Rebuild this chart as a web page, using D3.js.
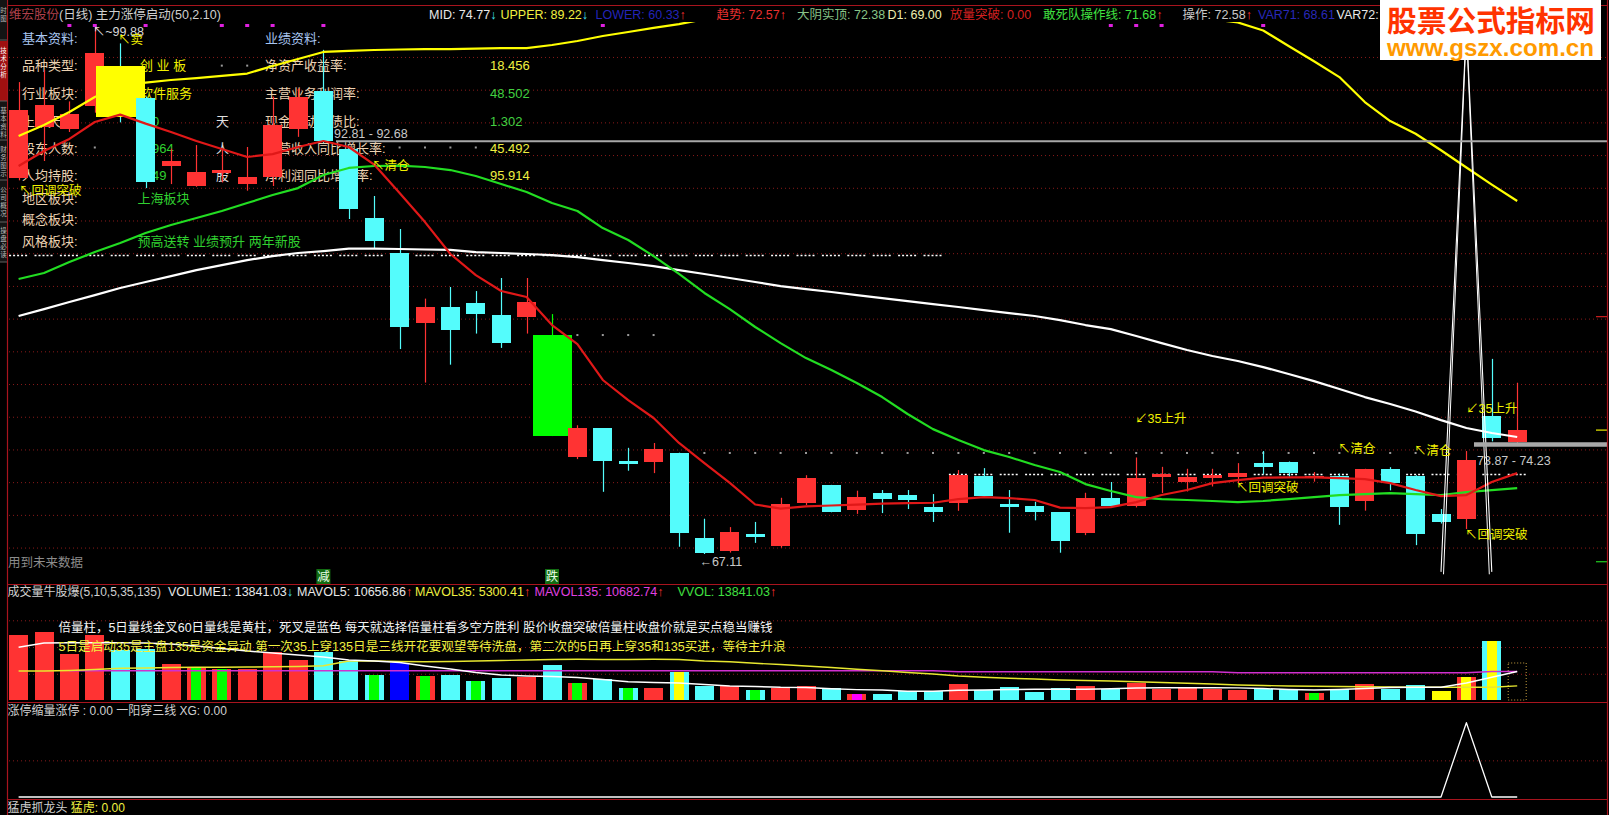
<!DOCTYPE html>
<html><head><meta charset="utf-8">
<script src="https://cdn.jsdelivr.net/npm/d3@7/dist/d3.min.js"></script>
<style>
html,body{margin:0;padding:0;background:#000;overflow:hidden}
svg{display:block}
text{font-family:"Liberation Sans","Noto Sans CJK SC",sans-serif;}
</style></head>
<body><svg id="chart" width="1609" height="815"></svg>
<script>
// ================= DATA =================
const opens  = [90.45,93.61,93.49,94.91,97.4,95.41,91.19,89.95,90.75,90.1,90.5,93.5,95.86,92.27,87.99,85.79,81.47,82.41,82.68,81.94,81.79,80.7,73.13,74.93,72.88,72.83,73.37,68.1,67.3,68.35,67.6,70.29,71.39,69.84,70.89,70.77,70.03,70.29,71.97,70.21,70.08,69.69,68.39,70.6,70.12,71.9,71.6,71.84,71.86,72.75,72.8,71.82,71.97,70.4,72.4,71.97,69.59,69.3,75.67,74.06];
const highs  = [96.4,97.15,95.2,99.88,98.8,95.5,92.27,92.49,92.27,92.37,95.5,96.0,98.4,92.4,89.33,87.28,82.96,83.68,83.43,84.24,84.24,82.0,75.1,74.93,73.7,74.0,73.4,69.3,68.78,69.1,70.6,72.0,71.4,71.04,71.08,71.08,70.83,72.32,72.44,71.08,70.35,69.7,70.91,71.58,73.1,72.52,72.4,72.4,72.75,73.5,72.85,72.2,72.1,72.4,72.5,72.0,69.9,73.5,79.22,77.74];
const lows   = [90.3,91.5,93.3,94.5,93.9,89.82,90.07,89.9,90.17,89.66,89.95,93.0,92.6,87.9,86.06,79.83,77.75,78.86,80.79,79.9,80.79,74.43,73.0,70.97,72.28,72.13,67.56,67.11,67.2,67.8,67.5,70.15,69.7,69.6,69.65,69.9,69.1,69.79,70.66,68.43,69.2,67.19,68.28,70.0,70.0,70.9,70.99,71.3,71.5,72.08,71.9,71.6,68.92,69.8,71.06,67.66,69.0,68.66,74.1,73.9];
const closes = [94.67,94.98,94.42,98.2,94.23,90.2,91.5,90.82,90.94,90.5,93.73,95.5,92.72,88.55,86.55,81.19,82.41,81.03,82.03,80.23,82.75,74.43,74.93,72.88,72.7,73.62,68.4,67.15,68.47,68.16,70.21,71.82,69.73,70.66,70.52,70.45,69.73,72.0,70.72,70.04,69.73,67.93,70.56,70.12,71.8,72.1,71.9,72.0,72.15,72.52,72.15,71.92,70.0,72.36,71.5,68.38,69.09,72.95,74.32,74.8];

// Bollinger-style lines of 主力涨停启动(50,2.10)
const upperVals = [93.05,93.73,94.54,95.47,96.16,96.37,96.53,96.65,96.78,96.93,97.4,97.83,98.27,98.33,98.39,98.42,98.45,98.45,98.48,98.51,98.51,98.7,98.95,99.26,99.51,99.76,100.0,100.3,100.6,100.9,101.1,101.3,101.4,101.5,101.5,101.5,101.4,101.3,101.2,101.1,101.0,100.9,100.8,100.7,100.6,100.5,100.4,100.3,100.1,99.6,98.64,97.69,96.71,95.16,93.98,93.19,92.17,91.1,90.04,89.02];
const midVals   = [81.88,82.31,82.75,83.18,83.62,83.99,84.36,84.73,85.04,85.35,85.6,85.79,85.91,86.06,86.06,86.04,86.01,85.98,85.85,85.79,85.73,85.66,85.54,85.35,85.17,84.98,84.73,84.49,84.24,83.99,83.74,83.55,83.37,83.18,82.99,82.81,82.62,82.44,82.25,82.06,81.88,81.63,81.32,81.07,80.64,80.2,79.77,79.4,79.09,78.71,78.28,77.84,77.35,76.85,76.42,75.95,75.42,74.93,74.62,74.37];
const trendVals = [91.19,92.12,92.87,93.92,94.38,93.82,93.3,92.74,92.25,91.75,91.93,92.37,92.74,92.37,91.28,89.51,87.71,85.73,84.42,83.43,83.06,81.32,80.14,77.91,76.66,75.55,74.0,72.75,71.52,70.18,69.93,70.06,70.12,70.18,70.24,70.27,70.29,70.52,70.64,70.58,70.46,69.99,69.96,70.02,70.33,70.77,71.08,71.51,71.7,71.85,71.86,71.86,71.82,71.76,71.51,71.08,70.7,70.77,71.58,72.13];
const opLineVals = [84.18,84.55,85.23,85.85,86.41,87.03,87.53,87.96,88.4,88.89,89.39,89.82,90.63,91.07,91.19,91.21,91.13,90.94,90.57,90.07,89.58,88.89,88.4,87.34,86.6,85.6,84.49,83.31,82.31,81.2,80.2,79.27,78.53,77.72,76.85,75.8,74.86,74.18,73.56,73.13,72.63,72.2,71.45,71.02,70.64,70.52,70.46,70.4,70.33,70.4,70.52,70.64,70.77,70.83,70.89,70.83,70.77,70.95,71.08,71.2];
const spikeVals = [null,null,null,null,null,null,null,null,null,null,null,null,null,null,null,null,null,null,null,null,null,null,null,null,null,null,null,null,null,null,null,null,null,null,null,null,null,null,null,null,null,null,null,null,null,null,null,null,null,null,null,null,null,null,null,null,66.0,99.9,66.0,null];
const dashLevel = [85.66,85.66,85.66,85.66,85.66,85.66,85.66,85.66,85.66,85.66,85.66,85.66,85.66,85.66,85.66,85.66,85.66,85.66,85.66,85.66,85.66,85.66,85.66,85.66,85.66,85.66,85.66,85.66,85.66,85.66,85.66,85.66,85.66,85.66,85.66,85.66,85.66,72.07,72.07,72.07,72.07,72.07,72.07,72.07,72.07,72.07,72.07,72.07,72.07,72.07,72.07,72.07,72.07,72.07,72.07,72.07,72.07,72.07,72.07,72.07];
const grayDotIdx = [3,8,9,15,16,17,18,22,23,24,25,27,28,29,30,31,32,33,34,35,36,37,38,39,40,41,42,43,44,45,46,47,48,49,50,51,52,53,54,55];
const grayDotVal = [92.34,97.42,97.42,92.34,92.34,92.34,92.34,80.7,80.7,80.7,80.7,73.38,73.38,73.38,73.38,73.38,73.38,73.38,73.38,73.38,73.38,73.38,73.38,73.38,73.38,73.38,73.38,73.38,73.38,73.38,73.38,73.38,73.38,73.38,73.38,73.38,73.38,73.38,73.38,73.38];
const topMarkIdx = [2,3,5,8,9,10,12,23,43,44,45,49];
const gridPrices = [97.99,95.96,93.93,91.90,89.87,87.84,85.81,83.78,81.75,79.72,77.69,75.66,73.63,71.60,69.57,67.54];

// volume panel
const volumes = [24310,25430,17200,24420,18700,18960,13460,12230,11590,11590,17840,14960,17840,14700,9350,13730,8980,9350,7220,8340,8490,13090,6470,7850,4490,4490,10470,5240,5350,3740,4600,5240,4380,2240,2240,3370,3370,5980,3740,4750,2990,4380,5240,4000,6360,4110,4600,4110,3740,4000,4000,2510,4000,5980,4000,5610,3370,8600,22070,13841.03];
const volKind = ['r','r','r','r','c','c','r','rg','rg','r','r','r','c','c','cg','b','rg','c','cg','c','r','c','rg','c','cg','r','cy','c','r','cg','r','r','c','rm','c','c','c','r','c','c','c','c','r','c','r','r','r','r','r','c','c','rg','c','r','c','c','y','ry','cy','o'];
const mavol5   = [19710,21320,21430,21430,21430,21320,20940,20200,19260,18330,17580,16830,16080,14960,14590,14030,12720,11590,10290,9350,8980,8790,8420,7670,6840,6550,6360,5800,5240,5050,4750,4680,4230,3890,3740,3250,3250,3630,3740,3930,4000,4000,4000,4230,4490,4600,4600,4600,4530,4300,3930,3740,3930,4300,4680,4750,4750,6360,8490,10656.86];
const mavol35  = [10850,10850,11030,11410,11860,11970,12160,12230,12230,12340,12420,12530,12830,14590,14590,14400,14320,14400,14590,14770,14960,15150,15220,15150,15150,15220,15150,14590,14320,13730,13280,12720,12160,11480,10960,10290,9720,8980,8490,8120,7850,7480,7290,7110,6840,6550,6250,5980,5610,5420,5240,5160,5050,4970,4860,4790,4750,4750,4750,5300.41];
const mavol135 = [null,null,10920,10920,10920,10920,10920,10920,10920,10920,10920,10920,10920,10920,10920,10920,10920,10920,10920,10920,10920,10920,10920,10920,10920,10920,10920,10920,10920,10920,10920,10920,10920,10920,10920,10920,10920,10580,10580,10580,10580,10580,10580,10580,10580,10580,10580,10580,10210,10210,10210,10210,10210,10210,10210,10210,10210,10210,10682.74,10682.74];
const volGrid = [10000,20000,30000];

// lower panel
const xgVals = [0,0,0,0,0,0,0,0,0,0,0,0,0,0,0,0,0,0,0,0,0,0,0,0,0,0,0,0,0,0,0,0,0,0,0,0,0,0,0,0,0,0,0,0,0,0,0,0,0,0,0,0,0,0,0,0,0,1,0,0];
const subGrid = [0.5];

// texts
const headerItems = [
  {x:429, c:'#e8e8e8', t:'MID: 74.77', a:'↓', ac:'#40e0f0'},
  {x:500.5, c:'#f0f040', t:'UPPER: 89.22', a:'↓', ac:'#40e0f0'},
  {x:595.5, c:'#2424b8', t:'LOWER: 60.33', a:'↑', ac:'#ff3030'},
  {x:716.5, c:'#e83030', t:'趋势: 72.57', a:'↑', ac:'#ff3030'},
  {x:797, c:'#88c488', t:'大阴实顶: 72.38'},
  {x:887.5, c:'#eeeeb0', t:'D1: 69.00'},
  {x:950, c:'#d42020', t:'放量突破: 0.00'},
  {x:1043, c:'#40e040', t:'敢死队操作线: 71.68', a:'↑', ac:'#ff3030'},
  {x:1182.5, c:'#c8c8c8', t:'操作: 72.58', a:'↑', ac:'#ff3030'},
  {x:1258, c:'#2828b8', t:'VAR71: 68.61'},
  {x:1336.5, c:'#e8e8e8', t:'VAR72: 74.23'}
];
const volHeader = [
  {x:7.5, c:'#d0d0d0', t:'成交量牛股爆(5,10,5,35,135)'},
  {x:168, c:'#e8e8e8', t:'VOLUME1: 13841.03', a:'↓', ac:'#40e0f0'},
  {x:297, c:'#e8e8e8', t:'MAVOL5: 10656.86', a:'↑', ac:'#ff3030'},
  {x:415, c:'#f0f040', t:'MAVOL35: 5300.41', a:'↑', ac:'#ff3030'},
  {x:534.5, c:'#e040e0', t:'MAVOL135: 10682.74', a:'↑', ac:'#ff3030'},
  {x:677.5, c:'#40e040', t:'VVOL: 13841.03', a:'↑', ac:'#ff3030'}
];
const leftLabels  = ['基本资料:','品种类型:','行业板块:','上市天数:','股东人数:','人均持股:','地区板块:','概念板块:','风格板块:'];
const leftValues  = ['',' 创 业 板','软件服务','550','17964','2949','上海板块','','预高送转 业绩预升 两年新股'];
const leftUnits   = ['','','','天','人','股','','',''];
const rightLabels = ['业绩资料:','净资产收益率:','主营业务利润率:','现金流动负债比:','主营收入同比增长率:','净利润同比增长率:'];
const rightValues = ['','18.456','48.502','1.302','45.492','95.914'];
const volNote1 = '倍量柱，5日量线金叉60日量线是黄柱，死叉是蓝色 每天就选择倍量柱看多空方胜利 股价收盘突破倍量柱收盘价就是买点稳当赚钱';
const volNote2 = '5日是启动35是主盘135是资金异动 第一次35上穿135日是三线开花要观望等待洗盘，第二次的5日再上穿35和135买进，等待主升浪';
const sideTabs = ['时图','技术分析','基本资料','财务图示','公司概况','操盘必读'];

// ================= DRAW =================
const W = 1609, H = 815;
const RED = '#ff3333', CYAN = '#54fcfc', YEL = '#ffff00', GRN = '#00ff00';
const svg = d3.select('#chart');
svg.append('rect').attr('width', W).attr('height', H).attr('fill', '#000');
const defs = svg.append('defs');
defs.append('clipPath').attr('id', 'clipMain').append('rect').attr('x', 8).attr('y', 22).attr('width', 1599).attr('height', 562);
defs.append('clipPath').attr('id', 'clipVol').append('rect').attr('x', 8).attr('y', 600).attr('width', 1599).attr('height', 101);

const idx = d3.range(opens.length);
const x  = d3.scaleLinear().domain([0, 59]).range([18.6, 1517.2]);
const y  = d3.scaleLinear().domain([67.11, 99.88]).range([554, 26]);
const vy = d3.scaleLinear().domain([0, 30000]).range([700, 619.8]);
const sy = d3.scaleLinear().domain([0, 1]).range([797, 722.7]);
const BW = 19;

// grid via axes
function gridAxis(scale, vals) {
  const g = svg.append('g').attr('transform', 'translate(9,0)')
    .call(d3.axisRight(scale).tickValues(vals).tickSize(1597).tickFormat(''));
  g.select('.domain').remove();
  g.selectAll('line').attr('stroke', '#8a1a1a').attr('stroke-dasharray', '1,3')
    .attr('transform', 'translate(0,0.5)');
}
gridAxis(y, gridPrices);
gridAxis(vy, volGrid);
gridAxis(sy, subGrid);

// info panel (behind candles)
const info = svg.append('g').attr('font-size', 13).attr('dominant-baseline', 'central');
const rowY = [38.6, 65.7, 93.5, 121, 148, 175, 198, 219, 241.5];
leftLabels.forEach((t, k) => {
  info.append('text').attr('x', 22).attr('y', rowY[k]).attr('fill', k === 0 ? '#a9c6f0' : '#ecd2b2').text(t);
  if (leftValues[k]) {
    const col = (k === 1 || k === 2) ? '#f0f000' : '#30d030';
    info.append('text').attr('x', k <= 2 ? 140 : 137.5).attr('y', rowY[k]).attr('fill', col).text(leftValues[k]);
  }
  if (leftUnits[k]) info.append('text').attr('x', 216).attr('y', rowY[k]).attr('fill', '#e0e0e0').text(leftUnits[k]);
});
rightLabels.forEach((t, k) => {
  info.append('text').attr('x', 265).attr('y', rowY[k]).attr('fill', k === 0 ? '#a9c6f0' : '#ecd2b2').text(t);
  if (rightValues[k]) info.append('text').attr('x', 490).attr('y', rowY[k])
    .attr('fill', (k === 2 || k === 3) ? '#40d040' : '#f0f040').text(rightValues[k]);
});

// main plot
const main = svg.append('g').attr('clip-path', 'url(#clipMain)');
grayDotIdx.forEach((i, k) => {
  main.append('rect').attr('x', x(i) - 1).attr('y', y(grayDotVal[k]) - 1).attr('width', 2).attr('height', 2).attr('fill', '#9a9a9a');
});
idx.forEach(i => {
  main.append('line').attr('x1', x(i) - BW / 2).attr('x2', x(i) + BW / 2)
    .attr('y1', Math.round(y(dashLevel[i])) + 0.5).attr('y2', Math.round(y(dashLevel[i])) + 0.5)
    .attr('stroke', '#ffffff').attr('stroke-dasharray', '2,2').attr('stroke-width', 1.3);
});
idx.forEach(i => {
  const up = closes[i] >= opens[i];
  let col = up ? RED : CYAN, bodyCol = col, bw = BW, wickCol = col;
  if (i === 4) { bodyCol = YEL; bw = 49; }
  if (i === 21) { bodyCol = GRN; wickCol = GRN; bw = 39; }
  const cx = Math.round(x(i)) + 0.5;
  main.append('line').attr('x1', cx).attr('x2', cx).attr('y1', y(highs[i])).attr('y2', y(lows[i]))
    .attr('stroke', wickCol).attr('stroke-width', 1.2);
  const top = y(Math.max(opens[i], closes[i])), bot = y(Math.min(opens[i], closes[i]));
  main.append('rect').attr('x', x(i) - bw / 2).attr('y', top).attr('width', bw)
    .attr('height', Math.max(2, bot - top)).attr('fill', bodyCol).attr('shape-rendering', 'crispEdges');
});
function drawLine(g, vals, sc, color, w) {
  g.append('path').datum(vals)
    .attr('d', d3.line().defined(d => d != null).x((d, i) => x(i)).y(d => sc(d)))
    .attr('fill', 'none').attr('stroke', color).attr('stroke-width', w).attr('stroke-linejoin', 'round');
}
drawLine(main, midVals, y, '#ffffff', 2.2);
drawLine(main, opLineVals, y, '#22dd22', 2.2);
drawLine(main, trendVals, y, '#e01818', 2.2);
drawLine(main, upperVals, y, '#ffff00', 2.2);
drawLine(main, spikeVals, y, '#ffffff', 1.1);
main.append('path').datum(spikeVals.map(v => v == null ? null : v - 0.15))
  .attr('d', d3.line().defined(d => d != null).x((d, i) => x(i) + (i === 56 ? 2.5 : i === 58 ? -2.5 : 0)).y(d => y(d)))
  .attr('fill', 'none').attr('stroke', '#ffffff').attr('stroke-width', 1);

// gray level lines
svg.append('line').attr('x1', 336).attr('x2', 1607).attr('y1', y(92.72)).attr('y2', y(92.72)).attr('stroke', '#a8a8a8').attr('stroke-width', 2);
svg.append('line').attr('x1', 1474).attr('x2', 1607).attr('y1', y(73.9)).attr('y2', y(73.9)).attr('stroke', '#a8a8a8').attr('stroke-width', 4.5);

// right edge ticks
[[closes[59], '#f0f000'], [66.63, '#20d020'], [81.84, '#d02020']].forEach(([v, c]) => {
  svg.append('line').attr('x1', 1596).attr('x2', 1607).attr('y1', y(v)).attr('y2', y(v)).attr('stroke', c).attr('stroke-width', 1.2);
});

// top magenta markers
topMarkIdx.forEach(i => svg.append('rect').attr('x', x(i) - 2).attr('y', 24).attr('width', 4).attr('height', 3).attr('fill', '#e020e0'));

// annotations
const ann = svg.append('g').attr('font-size', 12.5).attr('dominant-baseline', 'central');
const annotations = [
  {t:'↖~99.88', x:x(3) - 2, y:y(highs[3]) + 6, c:'#d8d8d8'},
  {t:'↖卖', x:118, y:40, c:'#f0f000'},
  {t:'↖清仓', x:372, y:166, c:'#f0f000'},
  {t:'92.81 - 92.68', x:334, y:134, c:'#c8c8c8'},
  {t:'↖回调突破', x:19, y:191, c:'#f0f000'},
  {t:'←67.11', x:x(27) - 5, y:y(lows[27]) + 8, c:'#c8c8c8'},
  {t:'↙35上升', x:1135, y:419, c:'#f0f000'},
  {t:'↖清仓', x:1338, y:449, c:'#f0f000'},
  {t:'↖清仓', x:1414, y:451, c:'#f0f000'},
  {t:'↖回调突破', x:1236, y:488, c:'#f0f000'},
  {t:'↙35上升', x:1466, y:409, c:'#f0f000'},
  {t:'73.87 - 74.23', x:1477, y:461, c:'#c8c8c8'},
  {t:'↖回调突破', x:1465, y:535, c:'#f0f000'}
];
annotations.forEach(a => ann.append('text').attr('x', a.x).attr('y', a.y).attr('fill', a.c).text(a.t));
ann.append('text').attr('x', 8).attr('y', 563).attr('fill', '#8c8c8c').attr('font-size', 12.5).text('用到未来数据');
[[12, '减'], [21, '跌']].forEach(([i, t]) => {
  svg.append('rect').attr('x', x(i) - 7).attr('y', 569).attr('width', 14).attr('height', 15).attr('fill', '#126c12');
  svg.append('text').attr('x', x(i)).attr('y', 577).attr('text-anchor', 'middle').attr('dominant-baseline', 'central')
    .attr('font-size', 12.5).attr('fill', '#e8ffe8').text(t);
});

// header
function itemText(g, it, yy, fs) {
  const t = g.append('text').attr('x', it.x).attr('y', yy).attr('font-size', fs).attr('dominant-baseline', 'central');
  t.append('tspan').attr('fill', it.c).text(it.t);
  if (it.a) t.append('tspan').attr('fill', it.ac).text(it.a);
}
const hdr = svg.append('g');
const h0 = hdr.append('text').attr('x', 9).attr('y', 15).attr('font-size', 12.5).attr('dominant-baseline', 'central');
h0.append('tspan').attr('fill', '#b0404c').text('维宏股份');
h0.append('tspan').attr('fill', '#cfcfcf').text('(日线) 主力涨停启动(50,2.10)');
headerItems.forEach(it => itemText(hdr, it, 15, 12.5));

// volume panel
const vol = svg.append('g').attr('clip-path', 'url(#clipVol)');
const kindCol = {r: RED, c: CYAN, b: '#0000ff', y: YEL};
const innerCol = {g: GRN, y: YEL, m: '#ff00ff'};
idx.forEach(i => {
  const k = volKind[i];
  const top = vy(volumes[i]), bot = vy(0);
  if (k === 'o') {
    vol.append('rect').attr('x', x(i) - BW / 2 + 0.5).attr('y', top).attr('width', BW - 1).attr('height', bot - top)
      .attr('fill', 'none').attr('stroke', '#c8a040').attr('stroke-dasharray', '1,2');
    return;
  }
  vol.append('rect').attr('x', x(i) - BW / 2).attr('y', top).attr('width', BW).attr('height', bot - top)
    .attr('fill', kindCol[k[0]]).attr('shape-rendering', 'crispEdges');
  if (k.length > 1) {
    vol.append('rect').attr('x', x(i) - 5).attr('y', top).attr('width', 10).attr('height', bot - top)
      .attr('fill', innerCol[k[1]]).attr('shape-rendering', 'crispEdges');
  }
});
drawLine(vol, mavol135, vy, '#d030d0', 1.6);
drawLine(vol, mavol35, vy, '#e8e830', 1.4);
drawLine(vol, mavol5, vy, '#ffffff', 1.4);
const vh = svg.append('g');
volHeader.forEach((it, k) => itemText(vh, it, 592, k === 0 ? 12 : 12.5));
vh.append('text').attr('x', 58.5).attr('y', 628).attr('font-size', 12.5).attr('dominant-baseline', 'central')
  .attr('fill', '#f4f4f4').attr('textLength', 714).attr('lengthAdjust', 'spacingAndGlyphs').text(volNote1);
vh.append('text').attr('x', 58.5).attr('y', 647).attr('font-size', 12.5).attr('dominant-baseline', 'central')
  .attr('fill', '#f0f040').attr('textLength', 727).attr('lengthAdjust', 'spacingAndGlyphs').text(volNote2);

// sub panel
drawLine(svg, xgVals, sy, '#ffffff', 1.3);
svg.append('text').attr('x', 7.5).attr('y', 711).attr('font-size', 12).attr('dominant-baseline', 'central').attr('fill', '#d0d0d0')
  .text('涨停缩量涨停 : 0.00 一阳穿三线 XG: 0.00');
const bt = svg.append('text').attr('x', 7.5).attr('y', 808).attr('font-size', 12).attr('dominant-baseline', 'central');
bt.append('tspan').attr('fill', '#d0d0d0').text('猛虎抓龙头 ');
bt.append('tspan').attr('fill', '#f0f040').text('猛虎: 0.00');

// borders
const BC = '#a8141e';
[[7.5, 0, 7.5, 815], [1607.5, 0, 1607.5, 815], [7.5, 5.5, 1608, 5.5], [7.5, 584.5, 1608, 584.5], [7.5, 702.5, 1608, 702.5], [7.5, 799.5, 1608, 799.5]]
  .forEach(([x1, y1, x2, y2]) => svg.append('line').attr('x1', x1).attr('y1', y1).attr('x2', x2).attr('y2', y2).attr('stroke', BC).attr('stroke-width', 1.2));

// left sidebar tabs (narrow strip)
const side = svg.append('g');
side.append('rect').attr('x', 0).attr('y', 0).attr('width', 7).attr('height', 262).attr('fill', '#141414');
side.append('rect').attr('x', 0).attr('y', 41).attr('width', 7).attr('height', 60).attr('fill', '#a01010');
[40, 101, 140, 180, 222, 262].forEach(yy => side.append('line').attr('x1', 0).attr('x2', 7).attr('y1', yy).attr('y2', yy).attr('stroke', '#606060'));
const tabTop = [6, 46, 106, 145, 185, 226];
sideTabs.forEach((t, k) => {
  [...t].forEach((ch, j) => side.append('text').attr('x', 0.3).attr('y', tabTop[k] + 8 * j + 7).attr('font-size', 6.5)
    .attr('fill', k === 1 ? '#ffffff' : '#bbbbbb').text(ch));
});

// watermark logo
svg.append('rect').attr('x', 1380).attr('y', 0).attr('width', 221).attr('height', 60).attr('fill', '#ffffff');
svg.append('text').attr('x', 1387).attr('y', 32).attr('font-size', 29).attr('font-weight', 'bold').attr('fill', '#ff3300')
  .attr('font-family', 'Noto Sans CJK SC').attr('textLength', 208).attr('lengthAdjust', 'spacingAndGlyphs').text('股票公式指标网');
svg.append('text').attr('x', 1387).attr('y', 56).attr('font-size', 24).attr('font-weight', 'bold').attr('fill', '#ff9a00')
  .attr('textLength', 207).attr('lengthAdjust', 'spacingAndGlyphs').text('www.gszx.com.cn');
</script></body></html>
